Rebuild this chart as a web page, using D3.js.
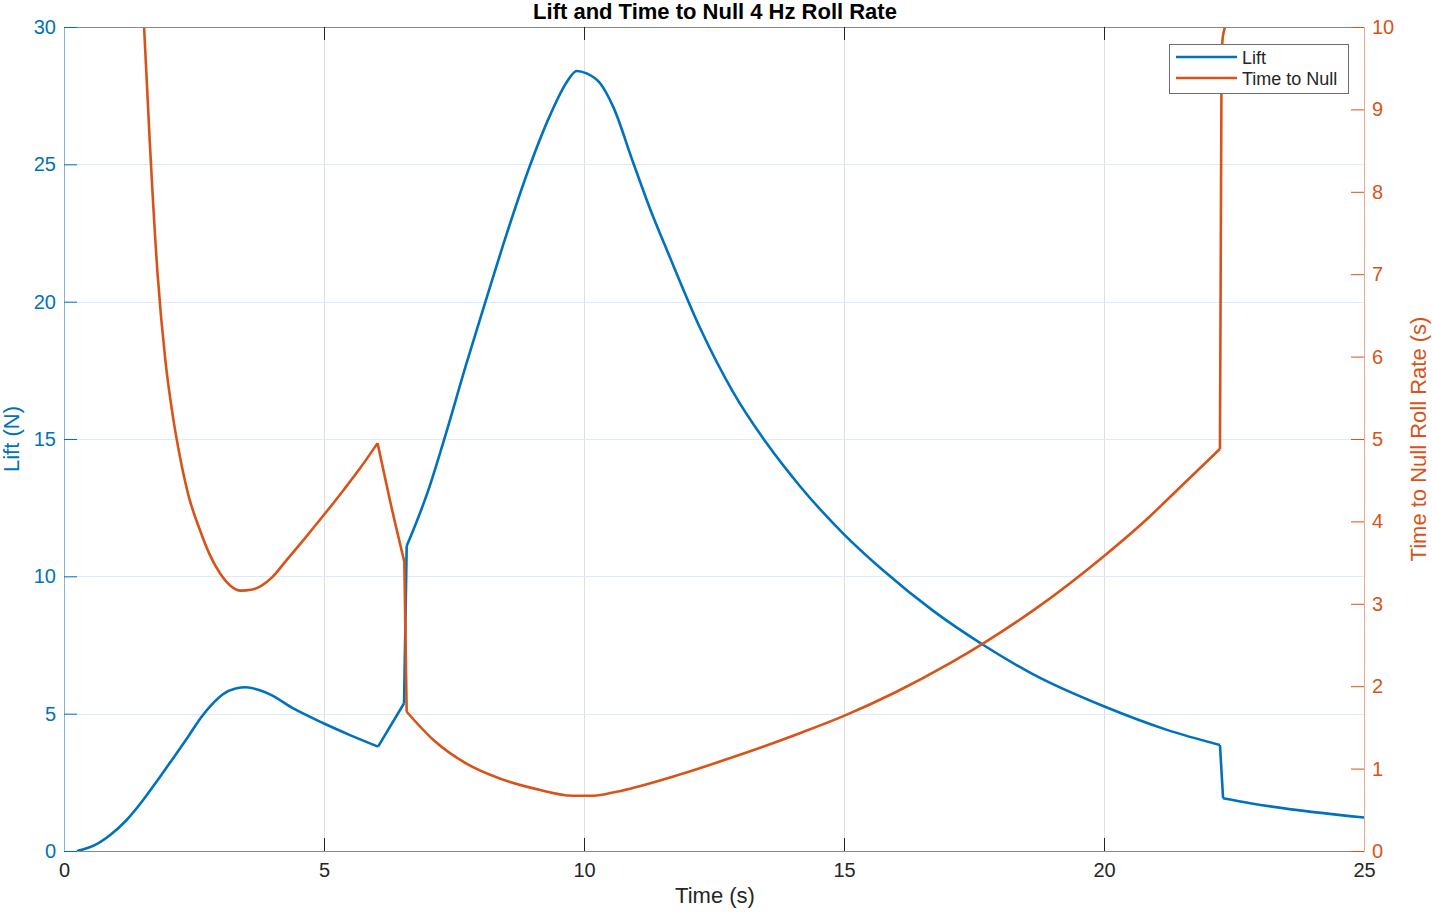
<!DOCTYPE html>
<html>
<head>
<meta charset="utf-8">
<script src="https://cdn.jsdelivr.net/npm/d3@7"></script>
<style>
  body { margin: 0; background: #fff; }
  svg { font-family: "Liberation Sans", Arial, Helvetica, sans-serif; }
</style>
</head>
<body>
<svg id="chart"></svg>
<script>
// lift curve (time s, lift N)
var liftTime = [0.25, 0.6, 0.9, 1.2, 1.5, 1.8, 2.1, 2.4, 2.65, 2.85, 3.05, 3.3, 3.5, 3.75, 3.96, 4.41, 4.99, 5.5, 6.04,
    6.54, 6.59, 7.0, 7.29, 7.74, 8.13, 8.51, 8.96, 9.35, 9.67, 9.86, 10.05, 10.31, 10.56, 10.95, 11.33, 11.59,
    12.23, 12.87, 13.51, 14.15, 15.0, 15.75, 16.71, 17.68, 18.64, 20.02, 21.21, 22.23, 22.29, 22.81, 25.0];
var liftValue = [0, 0.22, 0.6, 1.12, 1.8, 2.58, 3.38, 4.2, 4.9, 5.35, 5.7, 5.92, 5.96, 5.86, 5.7, 5.19, 4.65, 4.22, 3.8,
    5.38, 11.1, 13.1, 14.85, 17.75, 20.15, 22.45, 24.95, 26.8, 28.0, 28.4, 28.31, 27.95, 27.1, 25.04, 23.09, 21.9,
    19.05, 16.7, 14.85, 13.29, 11.53, 10.22, 8.75, 7.5, 6.43, 5.25, 4.41, 3.86, 1.92, 1.74, 1.22];
var liftCorners = [6.04, 6.54, 6.59, 22.23, 22.29];

// time to null curve (time s, time to null s)
var nullTime = [1.54, 1.65, 1.8, 1.95, 2.1, 2.25, 2.4, 2.6, 2.8, 3.0, 3.2, 3.4, 3.6, 3.8, 4.0, 4.28, 4.6, 5.0,
    5.4, 5.7, 6.03, 6.27, 6.545, 6.59, 7.1, 7.74, 8.38, 9.03, 9.79, 10.18, 10.63, 11.59, 12.87, 14.15, 15.0, 16.0,
    17.04, 17.68, 18.64, 20.02, 20.88, 21.21, 22.23, 22.26, 22.28, 22.33];
var nullValue = [10.0, 8.6, 7.0, 5.95, 5.25, 4.72, 4.3, 3.92, 3.6, 3.37, 3.22, 3.16, 3.17, 3.22, 3.32, 3.53, 3.77, 4.08,
    4.4, 4.65, 4.95, 4.25, 3.51, 1.69, 1.35, 1.06, 0.88, 0.76, 0.67, 0.67, 0.72, 0.88, 1.14, 1.43, 1.64, 1.93,
    2.28, 2.52, 2.92, 3.59, 4.06, 4.26, 4.88, 9.5, 9.85, 10.0];
var nullCorners = [6.03, 6.545, 6.59, 22.23];

var xTicks = [0, 5, 10, 15, 20, 25];
var liftTicks = [0, 5, 10, 15, 20, 25, 30];
var nullTicks = [0, 1, 2, 3, 4, 5, 6, 7, 8, 9, 10];

var blue = "#0072BD", orange = "#D95319", dark = "#262626";
var W = 1432, H = 912;
var plotL = 64, plotR = 1364, plotT = 27, plotB = 851;

var svg = d3.select("#chart").attr("width", W).attr("height", H);

var x = d3.scaleLinear().domain([0, 25]).range([plotL, plotR]);
var yL = d3.scaleLinear().domain([0, 30]).range([plotB, plotT]);
var yR = d3.scaleLinear().domain([0, 10]).range([plotB, plotT]);

svg.append("defs").append("clipPath").attr("id", "plotClip")
    .append("rect").attr("x", plotL).attr("y", plotT).attr("width", plotR - plotL).attr("height", plotB - plotT);

// grid
svg.append("g").selectAll("line").data(xTicks.filter(d => d > 0 && d < 25)).enter().append("line")
    .attr("x1", d => x(d) + 0.5).attr("x2", d => x(d) + 0.5)
    .attr("y1", plotT).attr("y2", plotB)
    .attr("stroke", "#dfdfdf").attr("stroke-width", 1);
svg.append("g").selectAll("line").data(liftTicks.filter(d => d > 0 && d < 30)).enter().append("line")
    .attr("x1", plotL).attr("x2", plotR)
    .attr("y1", d => Math.round(yL(d)) + 0.5).attr("y2", d => Math.round(yL(d)) + 0.5)
    .attr("stroke", "#dcebf7").attr("stroke-width", 1);

// split a series into pieces at corner points, so each piece is smooth
function pieces(ts, vs, corners) {
    var out = [], cur = [];
    ts.forEach(function(t, i) {
        cur.push([t, vs[i]]);
        if (corners.indexOf(t) >= 0 && cur.length > 1) {
            out.push(cur);
            cur = [[t, vs[i]]];
        }
    });
    if (cur.length > 1) out.push(cur);
    return out;
}

function drawSeries(ts, vs, corners, yScale, color) {
    var line = d3.line()
        .x(d => x(d[0]))
        .y(d => yScale(d[1]))
        .curve(d3.curveMonotoneX);
    var d = pieces(ts, vs, corners).map(p => line(p)).join("");
    svg.append("path")
        .attr("clip-path", "url(#plotClip)")
        .attr("d", d)
        .attr("fill", "none")
        .attr("stroke", color)
        .attr("stroke-width", 2.6)
        .attr("stroke-linejoin", "round");
}

drawSeries(liftTime, liftValue, liftCorners, yL, blue);
drawSeries(nullTime, nullValue, nullCorners, yR, orange);

// axes
var xAxis = svg.append("g").attr("transform", "translate(0," + plotB + ")")
    .call(d3.axisBottom(x).tickValues(xTicks).tickSizeInner(-13).tickSizeOuter(0).tickPadding(11.5));
xAxis.select(".domain").attr("stroke", "#8a8a8a");
xAxis.selectAll(".tick line").attr("stroke", dark);
xAxis.selectAll("text").attr("fill", dark).attr("font-size", 20);

var xTop = svg.append("g").attr("transform", "translate(0," + plotT + ")")
    .call(d3.axisTop(x).tickValues(xTicks.filter(d => d > 0 && d < 25)).tickSizeInner(-13).tickSizeOuter(0).tickFormat(""));
xTop.select(".domain").attr("stroke", "#8a8a8a");
xTop.selectAll(".tick line").attr("stroke", dark);

var yAxisL = svg.append("g").attr("transform", "translate(" + plotL + ",0)")
    .call(d3.axisLeft(yL).tickValues(liftTicks).tickSizeInner(-13).tickSizeOuter(0).tickPadding(8));
yAxisL.select(".domain").attr("stroke", "#7fb5de");
yAxisL.selectAll(".tick line").attr("stroke", blue);
yAxisL.selectAll("text").attr("fill", blue).attr("font-size", 20);

var yAxisR = svg.append("g").attr("transform", "translate(" + plotR + ",0)")
    .call(d3.axisRight(yR).tickValues(nullTicks).tickSizeInner(-13).tickSizeOuter(0).tickPadding(8));
yAxisR.select(".domain").attr("stroke", "#eca98c");
yAxisR.selectAll(".tick line").attr("stroke", orange);
yAxisR.selectAll("text").attr("fill", orange).attr("font-size", 20);

// labels
svg.append("text").attr("x", 715).attr("y", 19).attr("text-anchor", "middle")
    .attr("font-size", 22).attr("font-weight", "bold").attr("fill", "#000")
    .text("Lift and Time to Null 4 Hz Roll Rate");
svg.append("text").attr("x", 715).attr("y", 903).attr("text-anchor", "middle")
    .attr("font-size", 22).attr("fill", dark).text("Time (s)");
svg.append("text").attr("transform", "translate(19,439) rotate(-90)").attr("text-anchor", "middle")
    .attr("font-size", 22).attr("fill", blue).text("Lift (N)");
svg.append("text").attr("transform", "translate(1426,439) rotate(-90)").attr("text-anchor", "middle")
    .attr("font-size", 22).attr("fill", orange).text("Time to Null Roll Rate (s)");

// legend
var legendItems = [["Lift", blue], ["Time to Null", orange]];
var lg = svg.append("g").attr("transform", "translate(1169,44)");
lg.append("rect").attr("x", 0.5).attr("y", 0.5).attr("width", 179).attr("height", 49)
    .attr("fill", "#fff").attr("stroke", "#6e6e6e").attr("stroke-width", 1);
lg.selectAll("g.item").data(legendItems).enter().append("g").attr("class", "item")
    .each(function(d, i) {
        var g = d3.select(this);
        g.append("line").attr("x1", 7).attr("x2", 68).attr("y1", 13 + i * 21).attr("y2", 13 + i * 21)
            .attr("stroke", d[1]).attr("stroke-width", 2.6);
        g.append("text").attr("x", 73).attr("y", 20 + i * 21).attr("font-size", 18).attr("fill", dark).text(d[0]);
    });
</script>
</body>
</html>
